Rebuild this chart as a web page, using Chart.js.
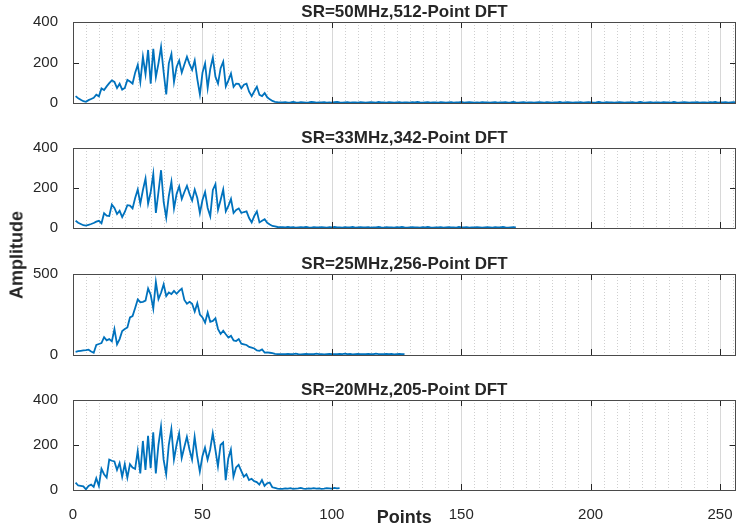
<!DOCTYPE html>
<html>
<head>
<meta charset="utf-8">
<script src="https://cdn.jsdelivr.net/npm/chart.js@4"></script>
<style>
  body { margin: 0; background: #fff; }
  #fig { position: relative; width: 741px; height: 530px; font-family: "Liberation Sans", Arial, sans-serif; }
  .panel { position: absolute; left: 0; width: 741px; }
  #ylab {
    position: absolute; left: 17px; top: 255px;
    transform: translate(-50%, -50%) rotate(-90deg);
    font-weight: bold; font-size: 18px; color: #262626; white-space: nowrap;
  }
</style>
</head>
<body>
<div id="fig">
  <div class="panel" style="top:0px;height:119px"><canvas id="c0"></canvas></div>
  <div class="panel" style="top:126px;height:118px"><canvas id="c1"></canvas></div>
  <div class="panel" style="top:252px;height:119px"><canvas id="c2"></canvas></div>
  <div class="panel" style="top:378px;height:152px"><canvas id="c3"></canvas></div>
  <div id="ylab">Amplitude</div>
</div>
<script>
// panel titles and axis limits
const titles = ["SR=50MHz,512-Point DFT", "SR=33MHz,342-Point DFT", "SR=25MHz,256-Point DFT", "SR=20MHz,205-Point DFT"];
const yMaxes = [400, 400, 500, 400];
const ySteps = [200, 200, 500, 200];
const xMax = 256;
const xTickLabels = [0, 50, 100, 150, 200, 250];

// amplitude per DFT bin (bin 1..N/2)
const amp512 = [
  34, 24, 16, 9, 6, 14, 20, 26, 41, 33, 72, 64, 82, 98, 112, 104,
  74, 95, 66, 74, 114, 106, 96, 150, 188, 104, 228, 142, 262, 96, 268, 128,
  196, 277, 152, 42, 196, 242, 104, 178, 210, 150, 190, 228, 192, 164, 210, 118,
  42, 150, 195, 74, 168, 224, 130, 96, 172, 204, 82, 112, 146, 80, 96, 95,
  72, 90, 95, 56, 34, 58, 80, 40, 34, 49, 28, 18, 10, 6, 4, 3,
  3, 4, 2, 3, 5, 3, 2, 4, 3, 2, 3, 5, 4, 2, 3, 3,
  4, 2, 3, 2, 4, 5, 3, 2, 3, 4, 2, 3, 3, 2, 4, 3,
  2, 3, 4, 3, 2, 5, 3, 3, 2, 4, 3, 2, 3, 4, 2, 3,
  3, 2, 4, 3, 5, 3, 2, 3, 4, 2, 3, 3, 2, 4, 3, 2,
  3, 4, 2, 3, 3, 5, 2, 3, 4, 3, 2, 3, 2, 4, 3, 3,
  2, 3, 4, 2, 3, 3, 4, 2, 3, 5, 3, 2, 3, 4, 2, 3,
  3, 2, 3, 4, 3, 2, 4, 3, 2, 3, 3, 5, 2, 3, 4, 3,
  2, 3, 3, 4, 2, 3, 4, 3, 2, 3, 5, 3, 2, 4, 3, 3,
  2, 3, 4, 3, 2, 3, 3, 4, 2, 3, 5, 3, 2, 3, 4, 2,
  3, 3, 2, 4, 3, 3, 2, 5, 3, 2, 3, 4, 3, 2, 3, 3,
  4, 2, 3, 3, 2, 4, 3, 5, 2, 3, 3, 4, 2, 3, 4, 3
];
const amp342 = [
  36, 26, 20, 14, 12, 16, 20, 25, 32, 36, 24, 74, 62, 60, 117, 100,
  70, 86, 55, 80, 114, 112, 98, 150, 192, 122, 190, 247, 122, 180, 270, 75,
  180, 289, 130, 52, 160, 231, 98, 170, 208, 145, 180, 211, 170, 137, 192, 150,
  75, 140, 180, 100, 59, 190, 219, 91, 140, 192, 83, 110, 145, 75, 90, 98,
  75, 80, 83, 50, 28, 60, 83, 28, 36, 44, 26, 17, 10, 8, 5, 4,
  4, 3, 5, 3, 4, 2, 3, 4, 3, 5, 3, 2, 4, 3, 3, 4,
  3, 2, 4, 3, 5, 3, 3, 2, 4, 3, 3, 5, 2, 3, 4, 3,
  3, 4, 2, 3, 3, 5, 3, 2, 4, 3, 3, 2, 4, 3, 5, 3,
  2, 3, 4, 3, 3, 2, 4, 3, 5, 3, 2, 3, 3, 4, 2, 3,
  4, 3, 3, 2, 5, 3, 3, 4, 2, 3, 3, 4, 3, 2, 3, 4,
  3, 2, 4, 3, 3, 5, 3, 2, 3, 4, 3
];
const amp256 = [
  20, 24, 26, 28, 30, 33, 22, 14, 62, 68, 74, 110, 90, 98, 84, 160,
  66, 98, 148, 160, 170, 232, 240, 290, 343, 326, 328, 336, 410, 372, 286, 450,
  345, 384, 436, 364, 386, 376, 396, 378, 396, 410, 340, 316, 328, 316, 268, 320,
  250, 232, 200, 262, 205, 210, 226, 160, 130, 150, 128, 108, 118, 90, 86, 98,
  70, 66, 62, 50, 46, 40, 28, 26, 34, 15, 16, 14, 12, 7, 6, 5,
  6, 5, 7, 5, 6, 8, 5, 4, 6, 7, 5, 6, 5, 8, 6, 5,
  4, 6, 7, 5, 6, 5, 7, 6, 8, 5, 6, 4, 6, 7, 5, 6,
  5, 7, 6, 5, 8, 6, 5, 6, 7, 5, 6, 4, 6, 7, 6, 5
];
const amp205 = [
  33, 20, 18, 16, 3, 18, 24, 14, 52, 18, 94, 70, 55, 135, 130, 127,
  89, 120, 59, 115, 55, 115, 100, 94, 173, 74, 218, 89, 241, 97, 256, 74,
  200, 282, 135, 70, 200, 271, 135, 200, 252, 142, 190, 236, 180, 135, 236, 150,
  82, 150, 188, 135, 180, 252, 180, 105, 200, 211, 44, 140, 180, 59, 100, 112,
  85, 59, 70, 44, 50, 39, 35, 24, 44, 18, 30, 33, 12, 9, 6, 5,
  5, 7, 6, 8, 5, 6, 7, 9, 6, 5, 7, 6, 8, 6, 7, 5,
  6, 8, 7, 6, 9, 7, 8
];
const series = [amp512, amp342, amp256, amp205];

const ink = "#262626";
const fontFamily = '"Liberation Sans", Arial, sans-serif';

// grid + box + inward ticks, MATLAB style
const matlabAxes = {
  id: "matlabAxes",
  beforeDatasetsDraw(chart) {
    const { ctx, chartArea: a, scales: { x } } = chart;
    ctx.save();
    ctx.lineWidth = 1;
    x.ticks.forEach(t => {
      if (t.value <= x.min || t.value >= x.max) return;
      const px = Math.round(x.getPixelForValue(t.value)) + 0.5;
      const major = t.value % 50 === 0;
      ctx.strokeStyle = major ? "rgba(38,38,38,0.18)" : "rgba(38,38,38,0.22)";
      ctx.setLineDash(major ? [] : [1, 2]);
      ctx.beginPath();
      ctx.moveTo(px, a.top);
      ctx.lineTo(px, a.bottom);
      ctx.stroke();
    });
    ctx.restore();
  },
  afterDatasetsDraw(chart) {
    const { ctx, chartArea: a, scales: { x, y } } = chart;
    const tl = 6;
    ctx.save();
    ctx.strokeStyle = ink;
    ctx.lineWidth = 1;
    ctx.beginPath();
    x.ticks.forEach(t => {
      if (t.value % 50 !== 0 || t.value <= x.min || t.value >= x.max) return;
      const px = Math.round(x.getPixelForValue(t.value)) + 0.5;
      ctx.moveTo(px, a.bottom); ctx.lineTo(px, a.bottom - tl);
      ctx.moveTo(px, a.top); ctx.lineTo(px, a.top + tl);
    });
    y.ticks.forEach(t => {
      if (t.value <= y.min || t.value >= y.max) return;
      const py = Math.round(y.getPixelForValue(t.value)) + 0.5;
      ctx.moveTo(a.left, py); ctx.lineTo(a.left + tl, py);
      ctx.moveTo(a.right, py); ctx.lineTo(a.right - tl, py);
    });
    ctx.stroke();
    ctx.strokeStyle = "#4a4a4a";
    ctx.strokeRect(Math.round(a.left) + 0.5, Math.round(a.top) + 0.5,
      Math.round(a.right - a.left) - 1, Math.round(a.bottom - a.top));
    ctx.restore();
  }
};

function makePanel(i) {
  const last = i === series.length - 1;
  return new Chart(document.getElementById("c" + i), {
    type: "line",
    data: {
      datasets: [{
        data: series[i].map((v, k) => ({ x: k + 1, y: v })),
        borderColor: "#0072BD",
        borderWidth: 1.8,
        pointRadius: 0,
        tension: 0
      }]
    },
    options: {
      responsive: true,
      maintainAspectRatio: false,
      animation: false,
      layout: { padding: { left: 0, right: 5, top: 0, bottom: 0 } },
      plugins: {
        legend: { display: false },
        tooltip: { enabled: false },
        title: {
          display: true,
          text: titles[i],
          fullSize: false,
          color: ink,
          font: { family: fontFamily, size: 17, weight: "bold", lineHeight: 1 },
          padding: { top: 4, bottom: 1 }
        }
      },
      scales: {
        x: {
          type: "linear",
          min: 0,
          max: xMax,
          grid: { display: false },
          border: { display: false },
          ticks: {
            display: last,
            stepSize: 5,
            autoSkip: false,
            includeBounds: false,
            maxRotation: 0,
            padding: 8,
            color: ink,
            font: { family: fontFamily, size: 15 },
            callback: v => xTickLabels.includes(v) ? String(v) : ""
          },
          title: {
            display: last,
            text: "Points",
            color: ink,
            font: { family: fontFamily, size: 18, weight: "bold", lineHeight: 1 },
            padding: { top: 0, bottom: 3 }
          },
          afterFit: s => { s.height = last ? 40 : 10; }
        },
        y: {
          min: 0,
          max: yMaxes[i],
          grid: { display: false },
          border: { display: false },
          ticks: {
            stepSize: ySteps[i],
            padding: 7,
            color: ink,
            font: { family: fontFamily, size: 15 }
          },
          afterFit: s => { s.width = 73; }
        }
      }
    },
    plugins: [matlabAxes]
  });
}

series.forEach((s, i) => makePanel(i));
</script>
</body>
</html>
